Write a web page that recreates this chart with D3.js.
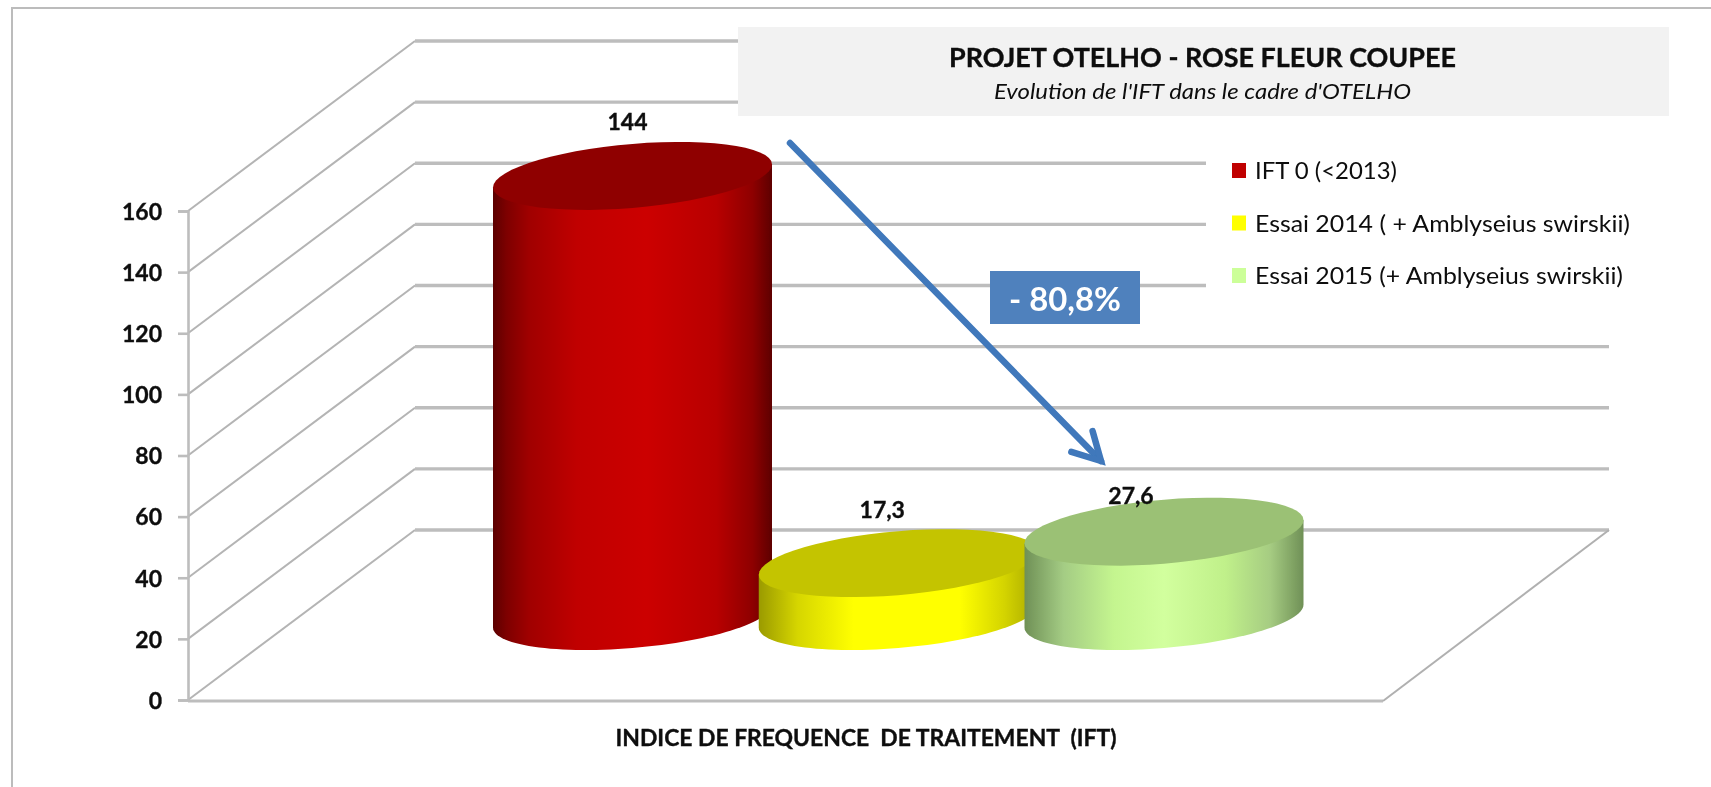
<!DOCTYPE html>
<html lang="fr">
<head>
<meta charset="utf-8">
<title>Projet OTELHO - Rose fleur coupée</title>
<script src="https://cdn.jsdelivr.net/npm/d3@7"></script>
<style>
  html, body { margin: 0; padding: 0; background: #fff; overflow: hidden; }
  svg { display: block; }
  text { font-family: Lato, "Open Sans", sans-serif; fill: #0c0c0c; white-space: pre; }
  .heavy { stroke: #0c0c0c; stroke-width: 0.35px; }
</style>
</head>
<body>
<div id="chart"></div>
<script>
// Chart values
const categories = ['IFT 0 (<2013)', 'Essai 2014 ( + Amblyseius swirskii)', 'Essai 2015 (+ Amblyseius swirskii)'];
const values = [144, 17.3, 27.6];
const valueLabels = ['144', '17,3', '27,6'];
const yTicks = [0, 20, 40, 60, 80, 100, 120, 140, 160];

const titleText = 'PROJET OTELHO - ROSE FLEUR COUPEE';
const subtitleText = "Evolution de l'IFT dans le cadre d'OTELHO";
const xTitleText = 'INDICE DE FREQUENCE  DE TRAITEMENT  (IFT)';
const changeText = '- 80,8%';

// Side, top colours of each cylinder
const sideStops = [
  [[0, '#5c0000'], [0.05, '#7e0000'], [0.13, '#a00000'], [0.3, '#c00000'], [0.55, '#cc0000'], [0.8, '#b80000'], [0.93, '#8e0000'], [1, '#5e0000']],
  [[0, '#9a9a00'], [0.14, '#d6d600'], [0.34, '#ffff00'], [0.72, '#ffff00'], [0.88, '#d4d400'], [1, '#a8a800']],
  [[0, '#6f9056'], [0.14, '#a4cc84'], [0.32, '#c4f58f'], [0.5, '#d2ff9e'], [0.72, '#c0f08a'], [0.88, '#a6cc82'], [1, '#6f9056']],
];
const topColors = ['#8f0000', '#c4c400', '#9bc174'];
const legendColors = ['#c00000', '#ffff00', '#ccff99'];

const W = 1711;
const H = 787;
const GRID = '#bdbdbd';
const BLUE = '#3f78bb';

const y = d3.scaleLinear().domain([0, 160]).range([700, 211]);
const x = d3.scalePoint().domain(categories).range([632.5, 1164]);

// Chart depth (front floor edge to back wall) and wall extent
const depth = { dx: 227, dy: -170 };
const axisX = 188;
const wallRight = 1609;
const floorRight = 1383;

// Cylinder footprint: a circle sheared by the perspective
const ell = { a: 139.5, k: -11.5, m: 32, baseY: 616 };
const ellX = (cx, t) => cx + ell.a * Math.cos(t);
const ellY = (cy, t) => cy + ell.k * Math.cos(t) + ell.m * Math.sin(t);
const pxPerUnit = y(0) - y(1);

const svg = d3.select('#chart').append('svg')
  .attr('width', W)
  .attr('height', H)
  .attr('viewBox', `0 0 ${W} ${H}`)
  .attr('role', 'img')
  .attr('aria-label', 'Histogramme 3D : IFT 144 avant 2013, 17,3 en 2014, 27,6 en 2015');

const defs = svg.append('defs');
// the source picture is an upscaled screenshot, everything is a bit soft
defs.append('filter').attr('id', 'soft')
  .attr('x', 0).attr('y', 0).attr('width', W).attr('height', H)
  .attr('filterUnits', 'userSpaceOnUse')
  .append('feGaussianBlur').attr('stdDeviation', 0.6);

sideStops.forEach((stops, i) => {
  const g = defs.append('linearGradient').attr('id', `side${i}`);
  stops.forEach(([o, c]) => g.append('stop').attr('offset', o).attr('stop-color', c));
});

const root = svg.append('g').attr('filter', 'url(#soft)');

// Outer frame, only left and top are visible
root.append('path')
  .attr('d', `M12,${H}V8H${W}`)
  .attr('fill', 'none')
  .attr('stroke', '#bcbcbc')
  .attr('stroke-width', 2);

// Walls and floor
const grid = root.append('g').attr('fill', 'none').attr('stroke', GRID);

grid.selectAll('path.side')
  .data(yTicks)
  .join('path')
  .attr('class', 'side')
  .attr('stroke', '#b4b4b4')
  .attr('stroke-width', 2)
  .attr('d', (d) => `M${axisX},${y(d)}l${depth.dx},${depth.dy}`);

grid.selectAll('path.back')
  .data(yTicks)
  .join('path')
  .attr('class', 'back')
  .attr('stroke-width', 3.4)
  .attr('d', (d) => `M${axisX + depth.dx},${y(d) + depth.dy}H${wallRight}`);

grid.append('path')
  .attr('stroke-width', 3.2)
  .attr('d', `M${axisX},${y(0) + 1}H${floorRight}`);
grid.append('path')
  .attr('stroke', '#b0b0b0')
  .attr('stroke-width', 2)
  .attr('d', `M${floorRight},${y(0) + 1}L${wallRight},${y(0) + depth.dy}`);

// Y axis
const axis = root.append('g')
  .attr('transform', `translate(${axisX},0)`)
  .call(d3.axisLeft(y).tickValues(yTicks).tickSize(10).tickPadding(16));
axis.select('.domain').attr('stroke', GRID).attr('stroke-width', 2.6);
axis.selectAll('.tick line').attr('stroke', GRID).attr('stroke-width', 2.6);
axis.selectAll('.tick text')
  .attr('class', 'heavy')
  .style('font-family', 'Lato')
  .style('font-size', '23px')
  .style('font-weight', 700)
  .attr('dy', '0.36em');

// Legend sits on a white plate that hides the wall lines
root.append('rect')
  .attr('x', 1206).attr('y', 125)
  .attr('width', 470).attr('height', 205)
  .attr('fill', '#fff');

// Title box
root.append('rect')
  .attr('x', 738).attr('y', 27)
  .attr('width', 931).attr('height', 89)
  .attr('fill', '#f2f2f2');

root.append('text')
  .attr('class', 'heavy')
  .attr('x', 1202.5).attr('y', 67)
  .attr('text-anchor', 'middle')
  .attr('textLength', 507)
  .attr('lengthAdjust', 'spacingAndGlyphs')
  .style('font-size', '27px')
  .style('font-weight', 700)
  .text(titleText);

root.append('text')
  .attr('x', 1202.5).attr('y', 99)
  .attr('text-anchor', 'middle')
  .attr('textLength', 417)
  .attr('lengthAdjust', 'spacingAndGlyphs')
  .style('font-size', '22px')
  .style('font-style', 'italic')
  .text(subtitleText);

// Cylinders
const rows = categories.map((c, i) => ({ c, i, v: values[i] }));
const outline = d3.line().x((p) => p[0]).y((p) => p[1]);
const turn = (from, to) => d3.range(0, 61).map((s) => from + (to - from) * s / 60);

const cyl = root.selectAll('g.cyl')
  .data(rows)
  .join('g')
  .attr('class', 'cyl');

cyl.append('path')
  .attr('fill', (d) => `url(#side${d.i})`)
  .attr('d', (d) => {
    const cx = x(d.c);
    const topY = ell.baseY - d.v * pxPerUnit;
    const base = turn(Math.PI, 0).map((t) => [ellX(cx, t), ellY(ell.baseY, t)]);
    return outline([[ellX(cx, Math.PI), ellY(topY, Math.PI)], ...base, [ellX(cx, 0), ellY(topY, 0)]]) + 'Z';
  });

cyl.append('path')
  .attr('fill', (d) => topColors[d.i])
  .attr('d', (d) => {
    const cx = x(d.c);
    const topY = ell.baseY - d.v * pxPerUnit;
    return outline(turn(0, 2 * Math.PI).map((t) => [ellX(cx, t), ellY(topY, t)])) + 'Z';
  });

// Data labels were nudged by hand in the original chart
const labelNudge = [[-5, -12], [-16, -11], [-33, 6]];
root.selectAll('text.value')
  .data(rows)
  .join('text')
  .attr('class', 'value heavy')
  .attr('x', (d) => x(d.c) + labelNudge[d.i][0])
  .attr('y', (d) => ell.baseY - d.v * pxPerUnit - 34 + labelNudge[d.i][1])
  .attr('text-anchor', 'middle')
  .style('font-size', '23px')
  .style('font-weight', 700)
  .text((d) => valueLabels[d.i]);

// Reduction arrow, open head with round barb ends
const arrow = { x1: 790, y1: 143, x2: 1101, y2: 461, barb: 31, spread: 0.5 };
const back = Math.atan2(arrow.y1 - arrow.y2, arrow.x1 - arrow.x2);
const barbPt = (a) => [arrow.x2 + arrow.barb * Math.cos(a), arrow.y2 + arrow.barb * Math.sin(a)];
const arrowG = root.append('g')
  .attr('fill', 'none')
  .attr('stroke', BLUE)
  .attr('stroke-width', 6.5)
  .attr('stroke-linecap', 'round');
arrowG.append('path').attr('d', outline([[arrow.x1, arrow.y1], [arrow.x2, arrow.y2]]));
arrowG.append('path')
  .attr('stroke-linejoin', 'miter')
  .attr('d', outline([barbPt(back - arrow.spread), [arrow.x2, arrow.y2], barbPt(back + arrow.spread)]));

// Change box
root.append('rect')
  .attr('x', 990).attr('y', 271)
  .attr('width', 150).attr('height', 53)
  .attr('fill', '#4f81bd');
root.append('text')
  .attr('x', 1065).attr('y', 311)
  .attr('text-anchor', 'middle')
  .attr('textLength', 112)
  .attr('lengthAdjust', 'spacingAndGlyphs')
  .style('font-size', '33px')
  .style('font-weight', 700)
  .style('fill', '#fff')
  .text(changeText);

// Legend
const legend = root.selectAll('g.key')
  .data(rows)
  .join('g')
  .attr('class', 'key')
  .attr('transform', (d) => `translate(1232,${163 + d.i * 52.5})`);
legend.append('rect')
  .attr('width', 14).attr('height', 15)
  .attr('fill', (d) => legendColors[d.i]);
const legendWidths = [142, 375, 368];
legend.append('text')
  .attr('x', 23).attr('y', 16)
  .attr('textLength', (d) => legendWidths[d.i])
  .attr('lengthAdjust', 'spacingAndGlyphs')
  .style('font-size', '23px')
  .text((d) => d.c);

// X axis title
root.append('text')
  .attr('class', 'heavy')
  .attr('x', 866).attr('y', 746)
  .attr('text-anchor', 'middle')
  .attr('textLength', 501)
  .attr('lengthAdjust', 'spacingAndGlyphs')
  .style('font-size', '23px')
  .style('font-weight', 700)
  .text(xTitleText);
</script>
</body>
</html>
